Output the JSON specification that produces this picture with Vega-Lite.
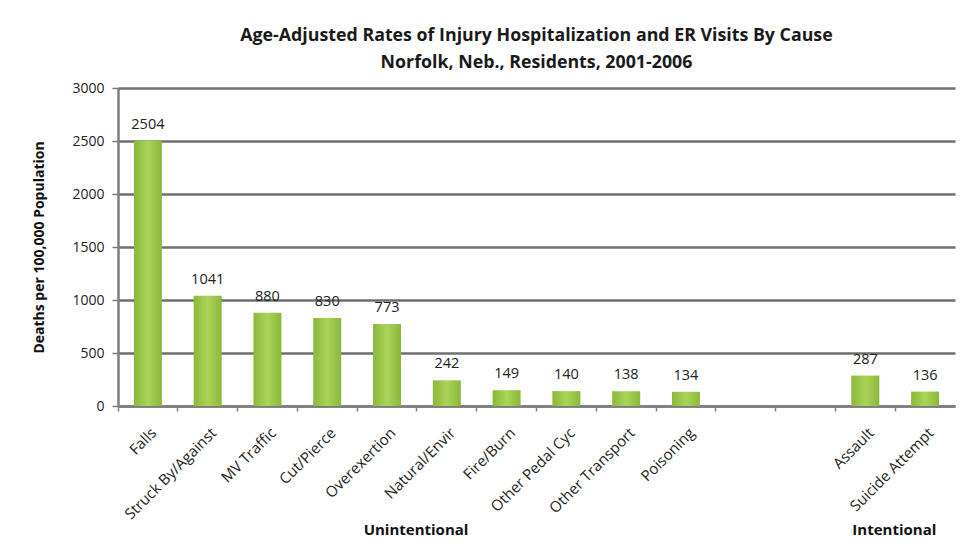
{
  "$schema": "https://vega.github.io/schema/vega-lite/v6.json",
  "width": 837,
  "height": 318,
  "autosize": {"type": "none"},
  "padding": {"left": 118, "top": 88, "right": 20, "bottom": 150},
  "background": "white",
  "title": {
    "text": ["Age-Adjusted Rates of Injury Hospitalization and ER Visits By Cause", "Norfolk, Neb., Residents, 2001-2006"],
    "font": "Open Sans",
    "fontSize": 17.8,
    "fontWeight": "bold",
    "color": "#1a1a1a",
    "lineHeight": 27,
    "anchor": "middle",
    "frame": "group",
    "offset": 9
  },
  "config": {
    "view": {"stroke": null},
    "axis": {"labelFont": "Open Sans", "titleFont": "Open Sans", "labelColor": "#222", "titleColor": "#111"}
  },
  "datasets": {
    "bars": [
      {"cause": "Falls", "rate": 2504},
      {"cause": "Struck By/Against", "rate": 1041},
      {"cause": "MV Traffic", "rate": 880},
      {"cause": "Cut/Pierce", "rate": 830},
      {"cause": "Overexertion", "rate": 773},
      {"cause": "Natural/Envir", "rate": 242},
      {"cause": "Fire/Burn", "rate": 149},
      {"cause": "Other Pedal Cyc", "rate": 140},
      {"cause": "Other Transport", "rate": 138},
      {"cause": "Poisoning", "rate": 134},
      {"cause": "Assault", "rate": 287},
      {"cause": "Suicide Attempt", "rate": 136}
    ],
    "groups": [
      {"group": "Unintentional", "anchor": "Overexertion"},
      {"group": "Intentional", "anchor": "Assault"}
    ]
  },
  "layer": [
    {
      "data": {"name": "bars"},
      "mark": {
        "type": "bar",
        "width": 28,
        "fill": {
          "gradient": "linear", "x1": 0, "y1": 0, "x2": 1, "y2": 0,
          "stops": [
            {"offset": 0, "color": "#8ab83a"},
            {"offset": 0.5, "color": "#a9d458"},
            {"offset": 1, "color": "#8ab83a"}
          ]
        }
      },
      "encoding": {
        "x": {
          "field": "cause", "type": "nominal", "sort": null,
          "scale": {
            "domain": ["Falls", "Struck By/Against", "MV Traffic", "Cut/Pierce", "Overexertion", "Natural/Envir", "Fire/Burn", "Other Pedal Cyc", "Other Transport", "Poisoning", "gap1", "gap2", "Assault", "Suicide Attempt"],
            "paddingInner": 0, "paddingOuter": 0
          },
          "axis": {
            "title": null,
            "labelAngle": -45,
            "labelAlign": "right",
            "labelBaseline": "middle",
            "labelFontSize": 15,
            "labelPadding": 19,
            "labelOffset": 6,
            "labelExpr": "indexof(datum.value, 'gap') == 0 ? '' : datum.value",
            "bandPosition": 0,
            "ticks": true,
            "tickColor": "#7f7f7f",
            "tickSize": 5,
            "tickWidth": 1.5,
            "domainColor": "#7f7f7f",
            "domainWidth": 2.5,
            "grid": false
          }
        },
        "y": {
          "field": "rate", "type": "quantitative",
          "scale": {"domain": [0, 3000], "nice": false},
          "axis": {
            "title": "Deaths per 100,000 Population",
            "titleFontSize": 14,
            "titleFontWeight": "bold",
            "titlePadding": 25,
            "values": [0, 500, 1000, 1500, 2000, 2500, 3000],
            "format": "d",
            "labelFontSize": 14,
            "labelPadding": 8,
            "grid": true,
            "gridColor": "#6f6f6f",
            "gridWidth": 2.5,
            "tickColor": "#7f7f7f",
            "tickSize": 6,
            "tickWidth": 1.5,
            "domainColor": "#7f7f7f",
            "domainWidth": 2.5
          }
        }
      }
    },
    {
      "data": {"name": "bars"},
      "mark": {"type": "text", "dy": -16, "font": "Open Sans", "fontSize": 14.5, "color": "#222"},
      "encoding": {
        "x": {"field": "cause", "type": "nominal", "sort": null},
        "y": {"field": "rate", "type": "quantitative"},
        "text": {"field": "rate", "type": "quantitative", "format": "d"}
      }
    },
    {
      "data": {"name": "groups"},
      "mark": {"type": "text", "dx": 29, "dy": 124, "font": "Open Sans", "fontSize": 15, "fontWeight": "bold", "color": "#111"},
      "encoding": {
        "x": {"field": "anchor", "type": "nominal", "sort": null},
        "y": {"datum": 0, "type": "quantitative"},
        "text": {"field": "group"}
      }
    }
  ]
}
